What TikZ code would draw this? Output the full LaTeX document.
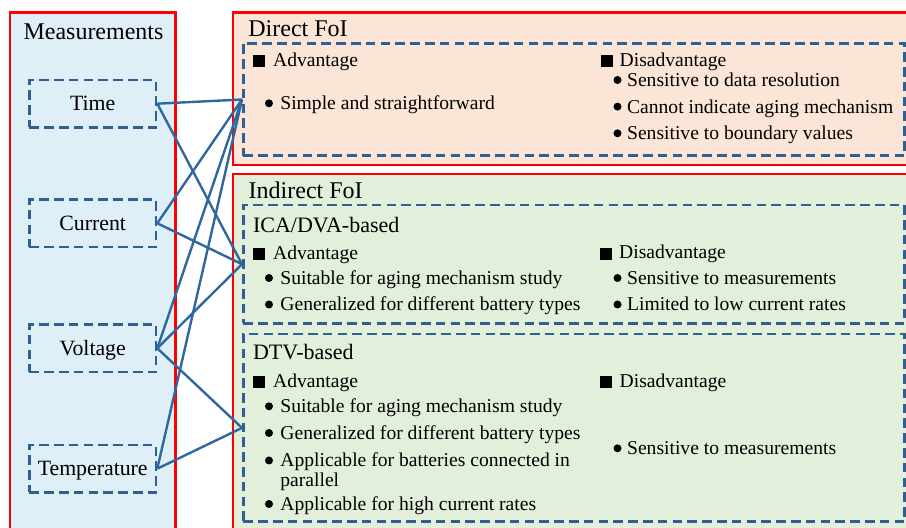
\documentclass[tikz,border=0pt]{standalone}
\usepackage{fontspec}
\setmainfont{Liberation Serif}
\usepackage{xcolor}
\definecolor{panelred}{RGB}{255,0,0}
\definecolor{measfill}{RGB}{222,239,248}
\definecolor{directfill}{RGB}{251,229,214}
\definecolor{indirfill}{RGB}{226,239,218}
\definecolor{linkblue}{RGB}{46,104,158}
\definecolor{dashblue}{RGB}{48,96,146}

\begin{document}
\begin{tikzpicture}[x=0.5pt,y=-0.5pt,
  panel/.style={draw=panelred,line width=1.2pt},
  dbox/.style={draw=dashblue,line width=1.3pt,dash pattern=on 4.8pt off 2.6pt,inner sep=0pt},
  meas/.style={dbox,minimum width=63.3pt,minimum height=23.7pt,text height=7.2pt,text depth=0pt,font=\fontsize{10.9}{13}\selectfont},
  head/.style={anchor=base west,inner sep=0pt,font=\fontsize{12}{14}\selectfont},
  subhead/.style={anchor=base west,inner sep=0pt,font=\fontsize{11}{13}\selectfont},
  item/.style={anchor=base west,inner sep=0pt,font=\fontsize{9.8}{10}\selectfont},
  link/.style={draw=linkblue,line width=1.2pt}]
\useasboundingbox (0,0) rectangle (906,528);
\clip (0,0) rectangle (906,528);

\draw[panel,fill=measfill] (10,12.5) rectangle (175.5,540);
\draw[panel,fill=directfill] (233,12.5) rectangle (920,165);
\draw[panel,fill=indirfill] (233,174) rectangle (920,540);

\node[head,anchor=base] (meastitle) at (93.5,40) {Measurements};
\node[meas] (time) at (92.7,103.7) {Time};
\node[meas] (current) at (92.7,223.3) {Current};
\node[meas] (voltage) at (92.7,348.3) {Voltage};
\node[meas] (temp) at (92.7,468.7) {Temperature};

\node[head] (directtitle) at (248,36.7) {Direct FoI};
\node[dbox,minimum width=330.5pt,minimum height=56.2pt] (direct) at (573.8,99.5) {};
\node[head] (indirtitle) at (248.3,198.3) {Indirect FoI};
\node[dbox,minimum width=330.5pt,minimum height=59.2pt] (ica) at (573.8,264.2) {};
\node[dbox,minimum width=330.5pt,minimum height=93.9pt] (dtv) at (573.8,427.9) {};

\fill (253.3,55.5) rectangle +(12,12);
\fill (600.7,55.5) rectangle +(12,12);
\node[item] (dadv) at (272.7,66.7) {Advantage};
\node[item] (ddis) at (619.3,66.7) {Disadvantage};
\fill (269,103.3) circle (2pt);
\node[item] (dsimple) at (280,110) {Simple and straightforward};
\fill (617.5,80) circle (2pt);
\fill (617.5,106.6) circle (2pt);
\fill (617.5,133.3) circle (2pt);
\node[item] (dres) at (626.7,86.7) {Sensitive to data resolution};
\node[item] (dmech) at (626.7,113.3) {Cannot indicate aging mechanism};
\node[item] (dbound) at (626.7,140) {Sensitive to boundary values};

\node[subhead] (icatitle) at (252.7,232.7) {ICA/DVA-based};
\fill (253.3,248.1) rectangle +(12,12);
\fill (600.3,247.6) rectangle +(12,12);
\node[item] (iadv) at (272.7,260) {Advantage};
\node[item] (idis) at (618.8,259) {Disadvantage};
\fill (269,278) circle (2pt);
\fill (269,304.5) circle (2pt);
\node[item] (istudy) at (280,284.5) {Suitable for aging mechanism study};
\node[item] (itypes) at (280,311) {Generalized for different battery types};
\fill (617.5,278) circle (2pt);
\fill (617.5,304.5) circle (2pt);
\node[item] (imeas) at (626.7,284.5) {Sensitive to measurements};
\node[item] (ilow) at (626.7,311) {Limited to low current rates};

\node[subhead] (dtvtitle) at (252.7,360) {DTV-based};
\fill (253.3,376.1) rectangle +(12,12);
\fill (600.3,376.1) rectangle +(12,12);
\node[item] (tadv) at (272.7,387.7) {Advantage};
\node[item] (tdis) at (619.3,387.7) {Disadvantage};
\fill (269,406.3) circle (2pt);
\fill (269,433) circle (2pt);
\fill (269,460.5) circle (2pt);
\fill (269,504) circle (2pt);
\node[item] (tstudy) at (280,412.7) {Suitable for aging mechanism study};
\node[item] (ttypes) at (280,439.3) {Generalized for different battery types};
\node[item] (tpar) at (280,466.7) {Applicable for batteries connected in};
\node[item] (tpar2) at (280,486.7) {parallel};
\node[item] (thigh) at (280,510.5) {Applicable for high current rates};
\fill (617.5,448.3) circle (2pt);
\node[item] (tmeas) at (626.7,454.5) {Sensitive to measurements};

\draw[link] (time.east) -- (direct.west);
\draw[link] (current.east) -- (direct.west);
\draw[link] (voltage.east) -- (direct.west);
\draw[link] (temp.east) -- (direct.west);
\draw[link] (time.east) -- (ica.west);
\draw[link] (current.east) -- (ica.west);
\draw[link] (voltage.east) -- (ica.west);
\draw[link] (voltage.east) -- (dtv.west);
\draw[link] (temp.east) -- (dtv.west);
\end{tikzpicture}
\end{document}
